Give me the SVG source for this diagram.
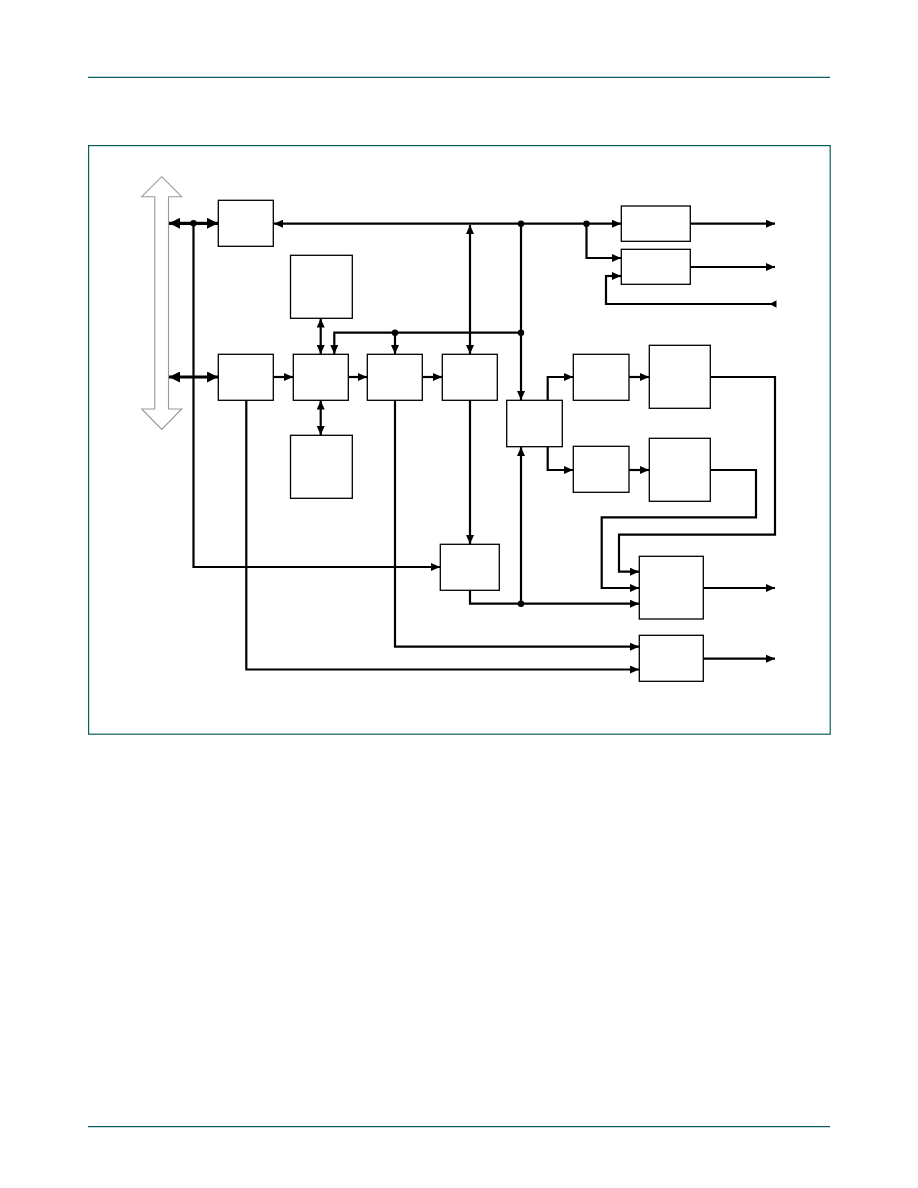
<svg xmlns="http://www.w3.org/2000/svg" width="918" height="1188" viewBox="0 0 918 1188">
<style>
.rule{stroke:#0b5e5c;stroke-width:1.3;fill:none}
.frame{stroke:#0b5e5c;stroke-width:1.2;fill:none}
.box{fill:#fff;stroke:#000;stroke-width:1.3}
.w{fill:none;stroke:#000;stroke-width:2.2}
.wb{fill:none;stroke:#000;stroke-width:3.2}
.a{marker-end:url(#arr)}
.aa{marker-end:url(#arr);marker-start:url(#arr)}
.bb{marker-end:url(#big);marker-start:url(#big)}
</style>
<defs>
<marker id="arr" markerUnits="userSpaceOnUse" markerWidth="10" markerHeight="8" refX="9" refY="4" orient="auto-start-reverse" viewBox="0 0 10 8">
<path d="M0,0 L9,4 L0,8 z" fill="#000"/>
</marker>
<marker id="big" markerUnits="userSpaceOnUse" markerWidth="12" markerHeight="11" refX="11" refY="5.5" orient="auto-start-reverse" viewBox="0 0 12 11">
<path d="M0,0 L11,5.5 L0,11 z" fill="#000"/>
</marker>
</defs>
<rect width="918" height="1188" fill="#fff"/>
<line class="rule" x1="88" y1="77.3" x2="830" y2="77.3"/>
<line class="rule" x1="88" y1="1126.7" x2="830" y2="1126.7"/>
<rect class="frame" x="88.6" y="145.6" width="741.6" height="588.6"/>

<g id="bus">
<polygon points="161.7,176.7 181.7,196.7 168.5,196.7 168.5,409 181.7,409 161.7,429.5 141.7,409 154.8,409 154.8,196.7 141.7,196.7" fill="#fff" stroke="#999" stroke-width="1.1"/>
</g>

<g id="connectors">
<!-- bus connections -->
<line class="wb bb" x1="169" y1="223.3" x2="218" y2="223.3"/>
<line class="wb bb" x1="169" y1="377" x2="218" y2="377"/>
<circle cx="193.5" cy="223.3" r="3.2"/>
<polyline class="w a" points="193.5,223.3 193.5,567 440,567"/>
<!-- top bus line -->
<line class="w a" x1="521" y1="223.7" x2="274" y2="223.7"/>
<line class="w a" x1="521" y1="223.7" x2="621" y2="223.7"/>
<circle cx="521" cy="223.7" r="3.2"/>
<circle cx="586.5" cy="223.7" r="3.2"/>
<polyline class="w a" points="586.5,223.7 586.5,258 621,258"/>
<polyline class="w" points="776,304 606,304 606,276 614,276"/>
<line class="w a" x1="606" y1="276" x2="621" y2="276"/>
<polygon points="769.5,304 776.5,300.3 776.5,307.7" fill="#000"/>
<line class="w a" x1="690" y1="223.7" x2="775" y2="223.7"/>
<line class="w a" x1="690" y1="267" x2="775" y2="267"/>
<!-- vertical double arrow to E -->
<line class="w aa" x1="470" y1="225" x2="470" y2="354"/>
<!-- x=521 down to F -->
<line class="w a" x1="521" y1="223.7" x2="521" y2="400"/>
<!-- line y=332.7 -->
<polyline class="w a" points="521,332.7 334.3,332.7 334.3,354"/>
<circle cx="521" cy="332.7" r="3.2"/>
<circle cx="395" cy="332.7" r="3.2"/>
<line class="w a" x1="395" y1="332.7" x2="395" y2="354"/>
<!-- memory double arrows -->
<line class="w aa" x1="320.7" y1="318.5" x2="320.7" y2="354"/>
<line class="w aa" x1="320.7" y1="400.5" x2="320.7" y2="435"/>
<!-- chain -->
<line class="w a" x1="273.5" y1="377" x2="293" y2="377"/>
<line class="w a" x1="348.5" y1="377" x2="367" y2="377"/>
<line class="w a" x1="422.5" y1="377" x2="442" y2="377"/>
<!-- E to N -->
<line class="w a" x1="470" y1="400.5" x2="470" y2="544"/>
<!-- F outputs -->
<polyline class="w a" points="547.7,400.5 547.7,377 573,377"/>
<polyline class="w a" points="547.7,446.7 547.7,470 573,470"/>
<line class="w a" x1="629" y1="377" x2="649" y2="377"/>
<line class="w a" x1="629" y1="470" x2="649" y2="470"/>
<!-- J and L to M -->
<polyline class="w a" points="710.5,377 775,377 775,534.7 619,534.7 619,571.7 639,571.7"/>
<polyline class="w a" points="710.5,470 756,470 756,517.3 601.7,517.3 601.7,588 639,588"/>
<!-- N output -->
<polyline class="w a" points="470,590.5 470,603.7 639,603.7"/>
<circle cx="521" cy="603.7" r="3.2"/>
<line class="w a" x1="521" y1="603.7" x2="521" y2="447"/>
<line class="w a" x1="703.5" y1="588" x2="775" y2="588"/>
<!-- to O -->
<polyline class="w a" points="395,400.5 395,646.7 639,646.7"/>
<polyline class="w a" points="246.3,400.5 246.3,669.5 639,669.5"/>
<line class="w a" x1="703.5" y1="658.7" x2="775" y2="658.7"/>
</g>

<g id="A"><rect class="box" x="218.3" y="200.3" width="55" height="46"/></g>
<g id="memTop"><rect class="box" x="290.5" y="255.3" width="61.8" height="63"/></g>
<g id="B"><rect class="box" x="218.3" y="354.3" width="55" height="46"/></g>
<g id="C"><rect class="box" x="293.3" y="354.3" width="55" height="46"/></g>
<g id="D"><rect class="box" x="367.3" y="354.3" width="55" height="46"/></g>
<g id="E"><rect class="box" x="442.3" y="354.3" width="55" height="46"/></g>
<g id="memBot"><rect class="box" x="290.5" y="435.3" width="61.8" height="63"/></g>
<g id="F"><rect class="box" x="506.7" y="400.3" width="55.6" height="46.4"/></g>
<g id="H"><rect class="box" x="621.3" y="206" width="69" height="35.3"/></g>
<g id="I"><rect class="box" x="621.3" y="249.3" width="69" height="35"/></g>
<g id="G"><rect class="box" x="573.3" y="354.3" width="55.7" height="46"/></g>
<g id="J"><rect class="box" x="649.3" y="345.3" width="61" height="63"/></g>
<g id="K"><rect class="box" x="573.3" y="446.3" width="55.7" height="46"/></g>
<g id="L"><rect class="box" x="649.3" y="438.3" width="61" height="63"/></g>
<g id="N"><rect class="box" x="440.3" y="544.3" width="59" height="46"/></g>
<g id="M"><rect class="box" x="639.3" y="556.3" width="64" height="62.7"/></g>
<g id="O"><rect class="box" x="639.3" y="635.3" width="64" height="46"/></g>
</svg>
